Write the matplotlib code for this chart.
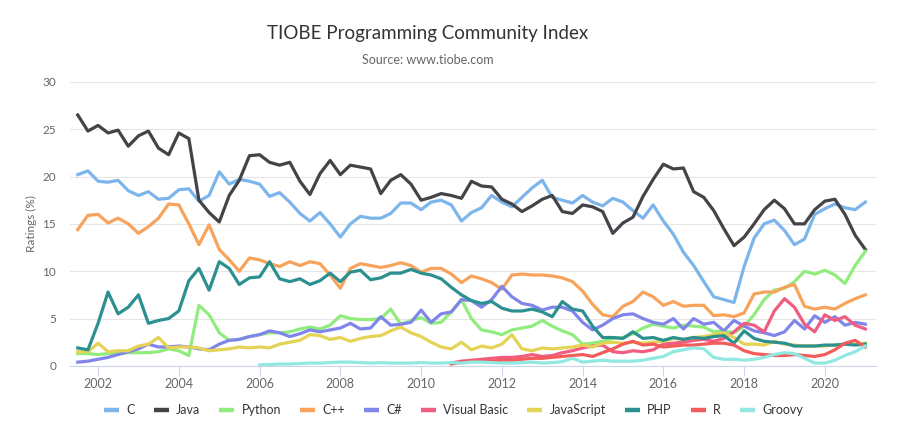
"""
TIOBE 编程语言排行指数折线图
"""
import pandas as pd
import matplotlib
matplotlib.use('Agg')
import matplotlib.pyplot as plt
import matplotlib.dates as mdates
from matplotlib.lines import Line2D

plt.rcParams['font.family'] = ['Lato', 'DejaVu Sans']

# 季度数据（2001-07 起），单位 %
start_all = '2001-07-01'
c = [20.2, 20.6,
     19.5, 19.4, 19.6, 18.5, 18.0, 18.4, 17.6, 17.7, 18.6, 18.7, 17.4, 18.0,
     20.5, 19.2, 19.7, 19.5, 19.2, 17.9, 18.3, 17.3, 16.1, 15.3, 16.2, 15.0,
     13.6, 15.0, 15.8, 15.6, 15.6, 16.1, 17.2, 17.2, 16.5, 17.3, 17.5, 17.0,
     15.3, 16.2, 16.7, 18.0, 17.3, 16.8, 17.8, 18.8, 19.6, 17.8, 17.5, 17.2,
     18.0, 17.3, 16.9, 17.7, 17.3, 16.4, 15.6, 17.0, 15.3, 13.9, 12.0, 10.6,
     8.9, 7.3, 7.0, 6.7, 10.5, 13.5, 15.0, 15.4, 14.3, 12.8, 13.4, 16.0,
     16.6, 17.1, 16.7, 16.5, 17.3]
java = [26.5, 24.8,
        25.4, 24.6, 24.9, 23.2, 24.3, 24.8, 23.0, 22.3, 24.6, 24.0, 17.5, 16.2,
        15.2, 18.0, 19.6, 22.2, 22.3, 21.5, 21.2, 21.5, 19.5, 18.1, 20.3, 21.7,
        20.2, 21.2, 21.0, 20.8, 18.2, 19.6, 20.2, 19.2, 17.5, 17.8, 18.2, 18.0,
        17.7, 19.5, 19.0, 18.9, 17.6, 17.1, 16.3, 16.9, 17.6, 18.0, 16.3, 16.1,
        17.0, 16.8, 16.3, 14.0, 15.1, 15.7, 17.9, 19.7, 21.3, 20.8, 20.9, 18.4,
        17.8, 16.4, 14.5, 12.7, 13.6, 15.0, 16.5, 17.5, 16.6, 15.0, 15.0, 16.5,
        17.4, 17.6, 16.0, 13.8, 12.3]
python = [1.3, 1.3,
          1.2, 1.3, 1.3, 1.4, 1.4, 1.4, 1.5, 1.8, 1.6, 1.1, 6.4, 5.4,
          3.5, 2.7, 2.8, 3.1, 3.3, 3.5, 3.5, 3.6, 3.9, 4.1, 3.9, 4.3,
          5.3, 5.0, 4.9, 4.9, 5.0, 6.0, 4.4, 4.8, 5.1, 4.5, 4.6, 5.7,
          7.0, 5.0, 3.8, 3.6, 3.3, 3.8, 4.0, 4.2, 4.8, 4.2, 3.7, 3.3,
          2.3, 2.4, 2.6, 2.9, 3.0, 3.4, 4.0, 4.4, 4.2, 4.0, 4.3, 4.2,
          4.1, 3.6, 3.7, 3.5, 4.2, 5.4, 7.0, 8.0, 8.2, 8.9, 10.0, 9.7,
          10.1, 9.6, 8.7, 10.6, 12.1]
cpp = [14.4, 15.9,
       16.0, 15.1, 15.6, 15.0, 14.0, 14.7, 15.6, 17.1, 17.0, 15.0, 12.8, 14.9,
       12.3, 11.2, 10.0, 11.4, 11.2, 10.8, 10.5, 11.0, 10.6, 11.0, 10.8, 9.6,
       8.2, 10.3, 10.8, 10.6, 10.4, 10.6, 10.9, 10.6, 9.9, 10.3, 10.3, 9.7,
       8.8, 9.5, 9.2, 8.8, 8.1, 9.6, 9.7, 9.6, 9.6, 9.5, 9.3, 8.9,
       7.9, 6.5, 5.4, 5.2, 6.3, 6.8, 7.8, 7.3, 6.4, 6.8, 6.3, 6.4,
       6.4, 5.3, 5.4, 5.2, 5.6, 7.6, 7.8, 7.8, 8.3, 8.6, 6.3, 6.0,
       6.2, 6.0, 6.6, 7.1, 7.5]
csharp = [0.4, 0.5,
          0.7, 0.9, 1.2, 1.5, 1.8, 2.3, 2.0, 2.0, 2.1, 2.0, 1.8, 1.7,
          2.3, 2.7, 2.8, 3.1, 3.3, 3.7, 3.5, 3.1, 3.4, 3.8, 3.6, 3.8,
          4.0, 4.5, 3.9, 4.0, 5.2, 4.3, 4.4, 4.6, 5.9, 4.6, 5.5, 5.7,
          7.0, 6.9, 6.2, 7.0, 8.4, 7.3, 6.6, 6.4, 5.9, 6.2, 6.2, 5.8,
          4.6, 3.8, 4.3, 5.0, 5.4, 5.5, 5.0, 4.6, 4.4, 5.0, 3.9, 5.0,
          4.4, 4.6, 3.7, 4.8, 4.2, 3.7, 3.5, 3.2, 3.6, 4.8, 3.9, 5.3,
          4.6, 5.2, 4.3, 4.6, 4.4]
javascript = [1.5, 1.5,
              2.4, 1.5, 1.6, 1.6, 2.1, 2.3, 3.0, 1.9, 2.0, 2.0, 1.9, 1.6,
              1.7, 1.8, 2.0, 1.9, 2.0, 1.9, 2.3, 2.5, 2.7, 3.3, 3.2, 2.8,
              3.0, 2.6, 2.9, 3.1, 3.2, 3.7, 4.1, 3.5, 3.1, 2.5, 2.0, 1.8,
              2.5, 1.7, 2.1, 1.9, 2.3, 3.3, 1.8, 1.6, 1.9, 1.8, 1.9, 2.0,
              2.2, 2.0, 2.4, 2.5, 2.4, 2.5, 2.4, 2.5, 2.6, 2.9, 2.8, 3.0,
              3.1, 3.3, 3.5, 3.0, 2.3, 2.3, 2.2, 2.6, 2.3, 2.2, 2.1, 2.1,
              2.1, 2.2, 2.3, 2.3, 2.4]
php = [1.9, 1.7,
       4.5, 7.8, 5.5, 6.2, 7.5, 4.5, 4.8, 5.0, 5.8, 9.0, 10.3, 8.0,
       11.0, 10.3, 8.6, 9.3, 9.4, 11.0, 9.2, 8.9, 9.2, 8.6, 9.0, 9.8,
       8.9, 9.9, 10.1, 9.1, 9.3, 9.8, 9.8, 10.2, 9.8, 9.6, 9.2, 8.3,
       7.5, 6.9, 6.6, 6.8, 6.1, 5.8, 5.8, 6.0, 5.7, 5.2, 6.8, 6.0,
       5.8, 4.2, 3.0, 3.0, 2.9, 3.6, 2.9, 3.0, 2.7, 3.0, 2.8, 3.0,
       2.9, 3.1, 3.2, 2.4, 3.7, 2.9, 2.6, 2.5, 2.4, 2.1, 2.1, 2.1,
       2.2, 2.2, 2.3, 2.2, 2.3]

# 后来才进入榜单的语言
start_late = '2010-10-01'
visual_basic = [0.3,
                0.5, 0.6, 0.7, 0.8, 0.9, 0.9, 1.0, 1.2, 1.0, 1.1, 1.4, 1.6,
                1.9, 2.1, 2.2, 1.5, 1.4, 1.6, 1.5, 1.7, 2.3, 2.4, 2.5, 2.7,
                2.8, 2.6, 2.9, 3.6, 4.5, 4.3, 3.6, 5.8, 7.1, 6.2, 4.4, 3.6,
                5.4, 4.8, 5.2, 4.3, 3.9]
r_lang = [0.2,
          0.4, 0.5, 0.5, 0.5, 0.6, 0.6, 0.7, 0.8, 0.8, 0.9, 1.0, 1.1,
          1.2, 1.0, 1.4, 1.8, 2.3, 2.6, 2.2, 2.3, 2.0, 2.1, 2.2, 2.2,
          2.3, 2.4, 2.4, 2.2, 1.6, 1.3, 1.2, 1.1, 1.1, 1.2, 1.1, 1.0,
          1.2, 1.7, 2.4, 2.7, 2.0]
start_groovy = '2006-01-01'
groovy = [0.1, 0.15, 0.2, 0.2, 0.25, 0.3, 0.3, 0.35,
          0.4, 0.4, 0.35, 0.3, 0.35, 0.3, 0.3, 0.3, 0.35, 0.3, 0.3, 0.35,
          0.3, 0.4, 0.4, 0.35, 0.3, 0.3, 0.35, 0.4, 0.3, 0.35, 0.45, 0.8,
          0.4, 0.5, 0.6, 0.5, 0.5, 0.5, 0.6, 0.8, 1.0, 1.5, 1.7, 1.9,
          1.8, 0.9, 0.7, 0.7, 0.6, 0.7, 0.9, 1.2, 1.4, 1.3, 0.8, 0.3,
          0.3, 0.6, 1.1, 1.5, 2.1]

series = [
    ('C', c, start_all, '#7cb5ec'),
    ('Java', java, start_all, '#434348'),
    ('Python', python, start_all, '#90ed7d'),
    ('C++', cpp, start_all, '#f7a35c'),
    ('C#', csharp, start_all, '#8085e9'),
    ('Visual Basic', visual_basic, start_late, '#f15c80'),
    ('JavaScript', javascript, start_all, '#e4d354'),
    ('PHP', php, start_all, '#2b908f'),
    ('R', r_lang, start_late, '#f45b5b'),
    ('Groovy', groovy, start_groovy, '#91e8e1'),
]

fig = plt.figure(figsize=(9, 4.24), dpi=100)
ax = fig.add_axes([0.0778, 0.137, 0.8952, 0.670])

handles = []
for name, vals, start, color in series:
    dates = pd.date_range(start, periods=len(vals), freq='QS')
    ax.plot(dates, vals, color=color, lw=2.3, solid_joinstyle='round')
    handles.append(Line2D([0], [0], color=color, lw=3.2, solid_capstyle='butt'))

ax.set_ylim(0, 30)
ax.set_yticks(range(0, 31, 5))
ax.set_xlim(pd.Timestamp('2001-04-22'), pd.Timestamp('2021-04-05'))
ax.xaxis.set_major_locator(mdates.YearLocator(2))
ax.xaxis.set_major_formatter(mdates.DateFormatter('%Y'))

ax.grid(axis='y', color='#e6e6e6', lw=0.8)
ax.set_axisbelow(True)
for side in ['top', 'right', 'left']:
    ax.spines[side].set_visible(False)
ax.spines['bottom'].set_color('#ccd6eb')
ax.tick_params(axis='y', length=0, labelsize=8.5, colors='#666666', pad=10)
ax.tick_params(axis='x', length=7, color='#ccd6eb', labelsize=9, labelcolor='#666666', pad=2)

ax.set_ylabel('Ratings (%)', fontsize=8.5, color='#666666', labelpad=4)

fig.text(0.475, 0.922, 'TIOBE Programming Community Index', ha='center', va='center',
         fontsize=13.5, color='#333333')
fig.text(0.475, 0.858, 'Source: www.tiobe.com', ha='center', va='center',
         fontsize=9, color='#666666')

fig.legend(handles, [s[0] for s in series], loc='center', ncol=10,
           bbox_to_anchor=(0.504, 0.033), frameon=False, fontsize=9,
           handlelength=1.2, handletextpad=0.6, columnspacing=1.5,
           labelcolor='#333333')

plt.savefig('out.png', dpi=100)
plt.close()
